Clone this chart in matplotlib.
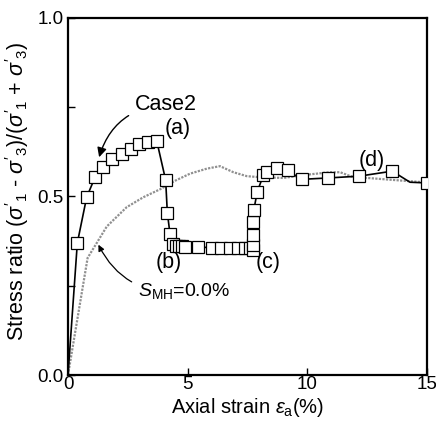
import matplotlib
matplotlib.use("Agg")
import matplotlib.pyplot as plt

plt.rcParams['font.family'] = ['Liberation Sans', 'DejaVu Sans']
plt.rcParams['mathtext.fontset'] = 'custom'
plt.rcParams['mathtext.rm'] = 'Liberation Sans'
plt.rcParams['mathtext.it'] = 'Liberation Sans:italic'
plt.rcParams['mathtext.bf'] = 'Liberation Sans:bold'

# Case2 (black line with open square markers)
case2_x = [0, 0.39, 0.78, 1.13, 1.48, 1.85, 2.24, 2.62, 2.98, 3.36, 3.71,
           4.08, 4.15, 4.26, 4.37, 4.50, 4.62, 4.75, 4.88, 5.45, 6.00, 6.39,
           6.77, 7.12, 7.40, 7.60, 7.74, 7.73, 7.73, 7.72, 7.76, 7.91, 8.16,
           8.30, 8.75, 9.18, 9.76, 10.88, 12.17, 13.55, 14.29, 15.0]
case2_y = [0, 0.370, 0.498, 0.554, 0.584, 0.604, 0.620, 0.634, 0.646, 0.653, 0.655,
           0.546, 0.455, 0.396, 0.366, 0.361, 0.360, 0.360, 0.359, 0.358, 0.357, 0.357,
           0.356, 0.356, 0.355, 0.355, 0.350, 0.364, 0.393, 0.428, 0.461, 0.514, 0.559,
           0.568, 0.579, 0.573, 0.548, 0.552, 0.557, 0.571, 0.540, 0.538]
case2_unmarked = [0, 40]

# S_MH = 0.0% (gray dotted line)
smh_x = [0, 0.82, 1.62, 2.45, 3.15, 3.84, 4.50, 5.10, 5.80, 6.35, 6.91, 7.47,
         8.02, 9.00, 9.97, 10.95, 11.37, 11.92, 12.50, 13.46, 14.85, 15.0]
smh_y = [0, 0.328, 0.416, 0.470, 0.498, 0.520, 0.545, 0.564, 0.578, 0.585, 0.568, 0.557,
         0.554, 0.552, 0.561, 0.568, 0.568, 0.554, 0.552, 0.547, 0.540, 0.540]

x_ticks = [0, 5, 10, 15]
x_ticklabels = ["0", "5", "10", "15"]
y_ticks = [0.0, 0.5, 1.0]
y_ticklabels = ["0.0", "0.5", "1.0"]

fig = plt.figure(figsize=(4.36, 4.21), dpi=100)
ax = fig.add_axes([68/436, 46/421, 359/436, 357/421])

ax.plot(smh_x, smh_y, color='#909090', lw=1.6, linestyle=(0, (1, 0.6)), zorder=2)

marked = [i for i in range(len(case2_x)) if i not in case2_unmarked]
ax.plot(case2_x, case2_y, color='black', lw=1.2, marker='s', markersize=9,
        markerfacecolor='white', markeredgecolor='black', markeredgewidth=0.9,
        markevery=marked, zorder=3)

ax.set_xlim(0, 15)
ax.set_ylim(0, 1.0)
ax.set_xticks(x_ticks)
ax.set_xticklabels(x_ticklabels)
ax.set_yticks(y_ticks)
ax.set_yticklabels(y_ticklabels)
ax.set_yticks([0.25, 0.75], minor=True)
ax.tick_params(axis='both', which='both', direction='in', top=False, right=False,
               labelsize=13.5, length=5, width=1.0)
ax.tick_params(axis='x', pad=1)
ax.tick_params(axis='y', pad=3)
for s in ax.spines.values():
    s.set_linewidth(1.6)

ax.set_xlabel(r"Axial strain $\varepsilon_{\rm a}$(%)", fontsize=14.5, labelpad=2)
ax.set_ylabel(r"Stress ratio ($\sigma'_1$ - $\sigma'_3$)/($\sigma'_1$ + $\sigma'_3$)",
              fontsize=15.5)
ax.yaxis.set_label_coords(-0.102, 0.515)

ax.annotate("Case2", xy=(1.3, 0.61), xytext=(2.8, 0.757), ha='left', va='center',
            fontsize=15.5,
            arrowprops=dict(arrowstyle='-|>', connectionstyle='arc3,rad=0.35',
                            color='black', lw=1.0, shrinkA=3, shrinkB=0,
                            mutation_scale=14))
ax.annotate(r"$S_{\rm MH}$=0.0%", xy=(1.27, 0.365), xytext=(2.93, 0.236),
            ha='left', va='center', fontsize=14,
            arrowprops=dict(arrowstyle='-|>', connectionstyle='arc3,rad=-0.35',
                            color='black', lw=0.9, shrinkA=3, shrinkB=0,
                            mutation_scale=9))

ax.text(4.58, 0.69, "(a)", ha='center', va='center', fontsize=15.5)
ax.text(4.20, 0.315, "(b)", ha='center', va='center', fontsize=15.5)
ax.text(8.38, 0.315, "(c)", ha='center', va='center', fontsize=15.5)
ax.text(12.7, 0.60, "(d)", ha='center', va='center', fontsize=15.5)

fig.savefig("out.png", dpi=100)
